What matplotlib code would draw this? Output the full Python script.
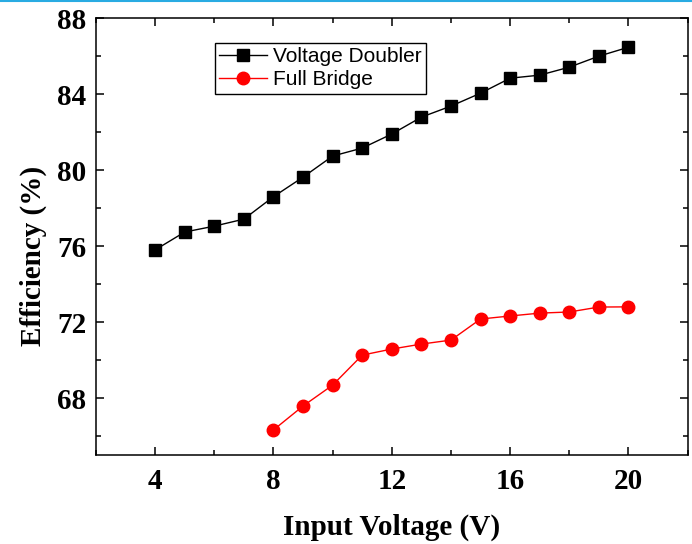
import matplotlib
matplotlib.use("Agg")
import matplotlib.pyplot as plt
from matplotlib.lines import Line2D
from matplotlib.ticker import MultipleLocator

# Input voltage (V) and efficiency (%)
v_doubler = [4, 5, 6, 7, 8, 9, 10, 11, 12, 13, 14, 15, 16, 17, 18, 19, 20]
eff_doubler = [75.8, 76.74, 77.05, 77.42, 78.6, 79.63, 80.74, 81.16, 81.9,
               82.79, 83.37, 84.05, 84.84, 85.0, 85.42, 86.0, 86.47]

v_bridge = [8, 9, 10, 11, 12, 13, 14, 15, 16, 17, 18, 19, 20]
eff_bridge = [66.32, 67.58, 68.68, 70.26, 70.58, 70.84, 71.05, 72.16,
              72.32, 72.47, 72.53, 72.79, 72.8]

serif = "Liberation Serif"
sans = "Liberation Sans"

fig = plt.figure(figsize=(6.92, 5.44), dpi=100)
ax = fig.add_axes([0.1387, 0.1636, 0.855, 0.803])

ax.plot(v_doubler, eff_doubler, color="black", lw=1.0, marker="s", ms=8,
        label="Voltage Doubler")
ax.plot(v_bridge, eff_bridge, color="red", lw=1.0, marker="o", ms=9,
        label="Full Bridge")

ax.set_xlim(2, 22)
ax.set_ylim(65, 88)
ax.xaxis.set_major_locator(MultipleLocator(4))
ax.xaxis.set_minor_locator(MultipleLocator(2))
ax.yaxis.set_major_locator(MultipleLocator(4))
ax.yaxis.set_minor_locator(MultipleLocator(2))

ax.tick_params(which="both", direction="in", top=True, right=True, width=1.1)
ax.tick_params(which="major", length=5.5, pad=7)
ax.tick_params(axis="x", which="major", pad=9)
ax.tick_params(which="minor", length=3.5)
for lab in ax.get_xticklabels() + ax.get_yticklabels():
    lab.set_fontfamily(serif)
    lab.set_fontweight("bold")
    lab.set_fontsize(21)
for sp in ax.spines.values():
    sp.set_linewidth(1.1)

ax.set_xlabel("Input Voltage (V)", fontfamily=serif, fontweight="bold",
              fontsize=21, labelpad=14)
ax.set_ylabel("Efficiency (%)", fontfamily=serif, fontweight="bold",
              fontsize=21, labelpad=9)
ax.yaxis.set_label_coords(-0.083, 0.455)

leg = ax.legend(loc="upper left", bbox_to_anchor=(0.201, 0.943),
                prop={"family": sans, "size": 15}, handlelength=2.3,
                fancybox=False, edgecolor="black", framealpha=1,
                borderpad=0.2, labelspacing=0.2, handletextpad=0.3,
                borderaxespad=0)
leg.get_frame().set_linewidth(1.0)

# thin blue rule along the top edge of the original image
fig.add_artist(Line2D([0, 1], [0.998, 0.998], transform=fig.transFigure,
                      color="#29abe2", lw=1.5))

fig.savefig("out.png", dpi=100)
